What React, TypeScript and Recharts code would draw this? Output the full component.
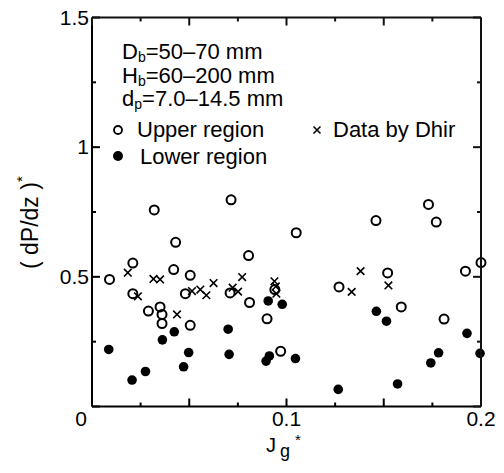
import { Scatter, ScatterChart, XAxis, YAxis } from 'recharts';

const upperX = [
  0.009, 0.021, 0.021, 0.032, 0.029, 0.035, 0.036, 0.036, 0.043, 0.042, 0.048,
  0.0505, 0.0505, 0.0715, 0.071, 0.0805, 0.081, 0.09, 0.094, 0.097, 0.105,
  0.127, 0.146, 0.152, 0.159, 0.173, 0.177, 0.181, 0.192, 0.2
];
const upperY = [
  0.49, 0.553, 0.435, 0.758, 0.368, 0.384, 0.355, 0.32, 0.633, 0.528, 0.435,
  0.506, 0.313, 0.797, 0.438, 0.582, 0.401, 0.338, 0.451, 0.213, 0.67, 0.461,
  0.717, 0.515, 0.384, 0.779, 0.711, 0.337, 0.522, 0.555
];

const lowerX = [
  0.0086, 0.0206, 0.0275, 0.0362, 0.0423, 0.0471, 0.0497, 0.07, 0.0705, 0.0895,
  0.0912, 0.0906, 0.0978, 0.1046, 0.1266, 0.1462, 0.1514, 0.1571, 0.1742,
  0.1782, 0.1928, 0.1995
];
const lowerY = [
  0.22, 0.102, 0.135, 0.257, 0.288, 0.153, 0.208, 0.298, 0.201, 0.175, 0.195,
  0.407, 0.394, 0.185, 0.066, 0.367, 0.329, 0.087, 0.168, 0.207, 0.282, 0.205
];

const dhirX = [
  0.0184, 0.0236, 0.0316, 0.035, 0.0437, 0.0514, 0.0557, 0.0588, 0.0625,
  0.0723, 0.0751, 0.0772, 0.0938, 0.0945, 0.0948, 0.1335, 0.1381, 0.1524
];
const dhirY = [
  0.516, 0.425, 0.492, 0.49, 0.355, 0.445, 0.451, 0.429, 0.476, 0.458, 0.443,
  0.499, 0.483, 0.463, 0.435, 0.442, 0.522, 0.467
];

const xTicks = [0, 0.025, 0.05, 0.075, 0.1, 0.125, 0.15, 0.175, 0.2];
const yTicks = [0, 0.25, 0.5, 0.75, 1, 1.25, 1.5];
const xLabels: Record<string, string> = { '0': '0', '0.1': '0.1', '0.2': '0.2' };
const yLabels: Record<string, string> = { '0.5': '0.5', '1': '1', '1.5': '1.5' };

const zip = (xs: number[], ys: number[]) => xs.map((x, i) => ({ x, y: ys[i] }));
const upper = zip(upperX, upperY);
const lower = zip(lowerX, lowerY);
const dhir = zip(dhirX, dhirY);

const FONT = '"Liberation Sans", Arial, sans-serif';

// chart geometry
const W = 488;
const H = 457;
const MARGIN = { top: 9.5, right: 15, bottom: 28.5, left: 24 };
const X_AXIS_H = 30;
const Y_AXIS_W = 60;
const PLOT_X = MARGIN.left + Y_AXIS_W;
const PLOT_Y = MARGIN.top;
const PLOT_W = W - MARGIN.left - MARGIN.right - Y_AXIS_W;
const PLOT_H = H - MARGIN.top - MARGIN.bottom - X_AXIS_H;

const isMajor = (v: number, step: number) =>
  Math.abs(v / step - Math.round(v / step)) < 1e-6;

const BottomTick = (props: any) => {
  const { x, y, payload } = props;
  const v = payload.value;
  const len = isMajor(v, 0.05) ? 8 : 4;
  const label = xLabels[String(v)];
  return (
    <g>
      <line x1={x} y1={y} x2={x} y2={y - len} stroke="#000" strokeWidth={2} />
      {label && (
        <text
          x={v === 0 ? x - 11 : x}
          y={y + 19}
          textAnchor="middle"
          fontSize={21}
          fontFamily={FONT}
          fill="#000"
        >
          {label}
        </text>
      )}
    </g>
  );
};

const LeftTick = (props: any) => {
  const { x, y, payload } = props;
  const v = payload.value;
  const len = isMajor(v, 0.5) ? 8 : 4;
  const label = yLabels[String(v)];
  return (
    <g>
      <line x1={x} y1={y} x2={x + len} y2={y} stroke="#000" strokeWidth={2} />
      {label && (
        <text
          x={x - 3}
          y={y + 7}
          textAnchor="end"
          fontSize={21}
          fontFamily={FONT}
          fill="#000"
        >
          {label}
        </text>
      )}
    </g>
  );
};

const OpenCircle = (props: any) => (
  <circle cx={props.cx} cy={props.cy} r={4.5} fill="none" stroke="#000" strokeWidth={2} />
);
const FilledCircle = (props: any) => (
  <circle cx={props.cx} cy={props.cy} r={4.8} fill="#000" />
);
const Cross = (props: any) => {
  const { cx, cy } = props;
  const d = 3.8;
  return (
    <path
      d={`M${cx - d},${cy - d}L${cx + d},${cy + d}M${cx - d},${cy + d}L${cx + d},${cy - d}`}
      stroke="#000"
      strokeWidth={1.6}
    />
  );
};

const textStyle = { fontSize: 22, fontFamily: FONT, fill: '#000' };

// top and right frame edges with mirrored inward ticks
const Frame = () => {
  const right = PLOT_X + PLOT_W;
  return (
    <g stroke="#111" strokeWidth={2}>
      <line x1={PLOT_X} y1={PLOT_Y} x2={right} y2={PLOT_Y} />
      <line x1={right} y1={PLOT_Y} x2={right} y2={PLOT_Y + PLOT_H} />
      {xTicks.map((v) => {
        const x = PLOT_X + (v / 0.2) * PLOT_W;
        const len = isMajor(v, 0.05) ? 8 : 4;
        return <line key={`t${v}`} x1={x} y1={PLOT_Y} x2={x} y2={PLOT_Y + len} />;
      })}
      {yTicks.map((v) => {
        const y = PLOT_Y + PLOT_H - (v / 1.5) * PLOT_H;
        const len = isMajor(v, 0.5) ? 8 : 4;
        return <line key={`r${v}`} x1={right} y1={y} x2={right - len} y2={y} />;
      })}
    </g>
  );
};

export default function App() {
  return (
    <div style={{ position: 'relative', width: W, height: H, background: '#fff' }}>
      <style>{'.recharts-surface { overflow: visible; }'}</style>
      <ScatterChart width={W} height={H} margin={MARGIN}>
        <XAxis
          type="number"
          dataKey="x"
          domain={[0, 0.2]}
          ticks={xTicks}
          height={X_AXIS_H}
          tickSize={0}
          tickMargin={0}
          tickLine={false}
          axisLine={{ stroke: '#000', strokeWidth: 2 }}
          tick={BottomTick}
          interval={0}
        />
        <YAxis
          type="number"
          dataKey="y"
          domain={[0, 1.5]}
          ticks={yTicks}
          width={Y_AXIS_W}
          tickSize={0}
          tickMargin={0}
          tickLine={false}
          axisLine={{ stroke: '#000', strokeWidth: 2 }}
          tick={LeftTick}
          interval={0}
        />
        <Scatter data={upper} shape={OpenCircle} isAnimationActive={false} />
        <Scatter data={lower} shape={FilledCircle} isAnimationActive={false} />
        <Scatter data={dhir} shape={Cross} isAnimationActive={false} />
      </ScatterChart>
      <svg
        width={W}
        height={465}
        style={{ position: 'absolute', left: 0, top: 0, pointerEvents: 'none' }}
      >
        <Frame />
        <text x={114} y={51} {...textStyle}>
          D<tspan fontSize={14} dy={3}>b</tspan>
          <tspan dy={-3}>=50–70 mm</tspan>
        </text>
        <text x={114} y={75} {...textStyle}>
          H<tspan fontSize={14} dy={3}>b</tspan>
          <tspan dy={-3}>=60–200 mm</tspan>
        </text>
        <text x={114} y={98} {...textStyle}>
          d<tspan fontSize={14} dy={3}>p</tspan>
          <tspan dy={-3}>=7.0–14.5 mm</tspan>
        </text>
        <circle cx={110} cy={122} r={4} fill="none" stroke="#000" strokeWidth={1.8} />
        <text x={129} y={129} {...textStyle}>Upper region</text>
        <path d="M305.5,118.5L312.5,125.5M305.5,125.5L312.5,118.5" stroke="#000" strokeWidth={1.6} />
        <text x={325} y={129} {...textStyle}>Data by Dhir</text>
        <circle cx={110} cy={148} r={5} fill="#000" />
        <text x={132} y={156} {...textStyle}>Lower region</text>
        <text
          x={0}
          y={0}
          transform="translate(30,261) rotate(-90)"
          textAnchor="start"
          {...textStyle}
          fontSize={23}
        >
          ( dP/dz )<tspan fontSize={15} dy={-11}>*</tspan>
        </text>
        <text x={258} y={444} {...textStyle} fontSize={20}>
          J<tspan fontSize={18} dx={4} dy={5}>g</tspan>
          <tspan fontSize={15} dx={5} dy={-12}>*</tspan>
        </text>
      </svg>
    </div>
  );
}
